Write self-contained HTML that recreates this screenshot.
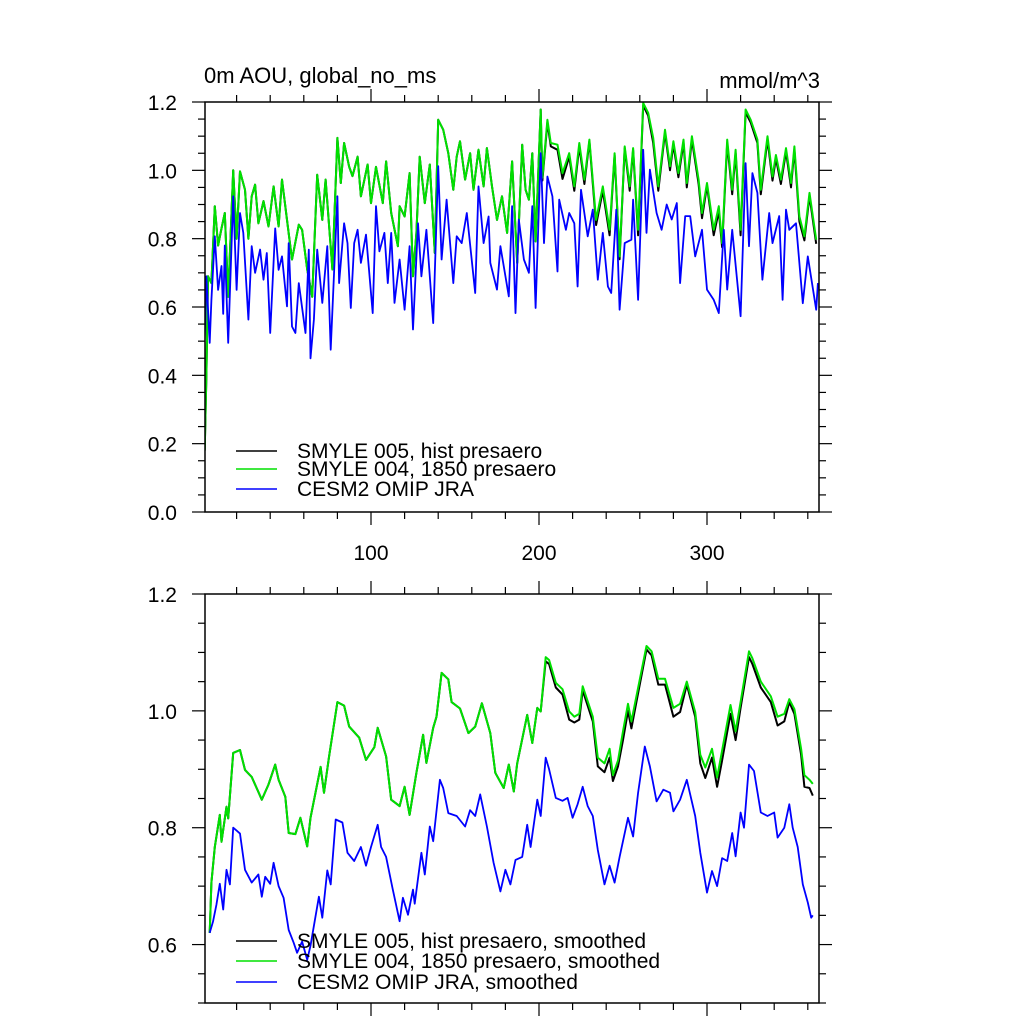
<!DOCTYPE html>
<html><head><meta charset="utf-8"><style>
body{margin:0;background:#fff}
svg{display:block;font-family:"Liberation Sans",sans-serif}
</style></head><body>
<svg id="c" width="1024" height="1024" viewBox="0 0 1024 1024">
<rect x="0" y="0" width="1024" height="1024" fill="#fff"/>
<g id="top"></g>
<g id="bot"></g>
<text x="204" y="83" font-size="22">0m AOU, global_no_ms</text>
<text x="820" y="88" font-size="22" text-anchor="end">mmol/m^3</text>
</svg>
<script>
const xTicks=[100,200,300];
const topYTicks=[0.0,0.2,0.4,0.6,0.8,1.0,1.2];
const botYTicks=[0.6,0.8,1.0,1.2];
const topLegend=["SMYLE 005, hist presaero","SMYLE 004, 1850 presaero","CESM2 OMIP JRA"];
const botLegend=["SMYLE 005, hist presaero, smoothed","SMYLE 004, 1850 presaero, smoothed","CESM2 OMIP JRA, smoothed"];

const topGreenDays=[1,2,3,5,7,9,11,13,15,18,20,22,25,27,29,31,33,36,39,42,45,47,50,53,57,59,62,65,68,71,73,77,80,82,84,87,89,92,94,98,100,103,107,109,112,116,117,120,123,125,127,129,132,135,138,140,143,146,149,151,153,156,159,161,164,167,169,172,175,178,181,184,187,190,192,194,196,198,201,202,205,207,211,214,218,221,224,227,230,234,238,242,245,248,251,254,256,259,262,265,268,271,275,278,280,283,286,288,291,295,297,300,304,307,309,312,315,317,320,323,326,330,332,336,339,341,344,347,350,352,355,358,361,365];
const topGreenVals=[0.18,0.40,0.69,0.67,0.895,0.78,0.83,0.875,0.63,1.0,0.80,0.997,0.943,0.80,0.924,0.958,0.845,0.91,0.836,0.953,0.836,0.973,0.855,0.739,0.841,0.826,0.71,0.63,0.987,0.855,0.973,0.71,1.095,0.963,1.08,1.01,0.983,1.04,0.924,1.017,0.904,1.01,0.904,1.026,0.875,0.778,0.895,0.865,0.992,0.69,0.817,1.04,0.904,1.017,0.758,1.148,1.119,1.05,0.943,1.04,1.085,0.973,1.05,0.943,1.06,0.953,1.065,0.953,0.855,0.924,0.817,1.026,0.729,1.075,0.943,0.914,1.05,0.792,1.178,0.978,1.148,1.08,1.075,0.992,1.05,0.953,1.08,0.973,1.09,0.855,0.953,0.826,1.05,0.748,1.07,0.953,1.065,0.826,1.197,1.168,1.095,0.953,1.119,1.012,1.085,0.992,1.09,0.963,1.10,0.973,0.875,0.963,0.826,0.895,0.787,1.09,0.943,1.06,0.826,1.178,1.148,1.09,0.943,1.10,0.982,1.045,0.973,1.065,0.963,1.07,0.865,0.807,0.934,0.797];
const topBlackVals=[0.18,0.40,0.69,0.67,0.895,0.78,0.83,0.875,0.63,1.0,0.80,0.997,0.943,0.80,0.924,0.958,0.845,0.91,0.836,0.953,0.836,0.973,0.855,0.739,0.841,0.826,0.71,0.63,0.987,0.855,0.973,0.71,1.095,0.963,1.08,1.01,0.983,1.04,0.924,1.017,0.904,1.01,0.904,1.026,0.875,0.778,0.895,0.865,0.992,0.69,0.817,1.04,0.904,1.017,0.758,1.148,1.119,1.05,0.943,1.04,1.085,0.973,1.05,0.943,1.06,0.953,1.065,0.953,0.855,0.924,0.817,1.026,0.729,1.075,0.943,0.914,1.05,0.792,1.178,0.97,1.14,1.07,1.06,0.975,1.04,0.94,1.07,0.96,1.085,0.84,0.94,0.81,1.045,0.74,1.065,0.94,1.06,0.81,1.19,1.16,1.08,0.94,1.11,1.0,1.075,0.98,1.08,0.95,1.09,0.96,0.86,0.955,0.81,0.88,0.775,1.08,0.93,1.05,0.81,1.17,1.14,1.08,0.93,1.09,0.97,1.035,0.96,1.055,0.95,1.06,0.85,0.795,0.925,0.785];
const topBlueDays=[1,2,4,5,7,9,11,12,13,15,18,20,22,24,27,29,31,34,36,38,40,43,45,47,50,51,53,55,57,61,63,64,66,68,71,74,76,80,81,84,86,88,90,92,94,97,101,103,105,108,110,112,114,117,120,123,125,128,130,133,137,140,142,145,149,151,154,157,162,164,167,170,171,175,177,182,184,186,188,191,194,196,198,201,203,205,208,211,212,216,218,221,223,225,229,232,235,238,241,243,246,248,251,255,256,259,262,264,266,270,273,276,279,282,284,287,290,293,297,300,304,307,310,312,315,320,323,325,327,330,333,337,339,343,345,347,349,353,357,360,365,366];
const topBlueVals=[0.505,0.69,0.495,0.62,0.807,0.65,0.72,0.58,0.78,0.495,0.924,0.65,0.875,0.817,0.563,0.778,0.70,0.768,0.68,0.758,0.524,0.83,0.709,0.748,0.602,0.787,0.543,0.524,0.67,0.524,0.768,0.45,0.563,0.768,0.612,0.778,0.475,0.924,0.67,0.845,0.787,0.597,0.787,0.826,0.729,0.812,0.582,0.895,0.763,0.817,0.67,0.817,0.612,0.739,0.592,0.778,0.534,0.845,0.69,0.826,0.553,1.012,0.739,0.914,0.67,0.807,0.787,0.875,0.641,0.953,0.787,0.865,0.729,0.651,0.778,0.631,0.895,0.582,0.856,0.739,0.70,0.895,0.597,1.05,0.787,0.982,0.924,0.704,0.914,0.826,0.875,0.845,0.66,0.943,0.807,0.885,0.68,0.817,0.66,0.641,0.885,0.592,0.787,0.797,0.914,0.621,1.06,0.817,1.002,0.875,0.826,0.90,0.856,0.904,0.67,0.866,0.866,0.748,0.826,0.651,0.621,0.582,0.826,0.651,0.826,0.573,1.021,0.778,0.992,0.934,0.68,0.875,0.787,0.866,0.621,0.885,0.826,0.845,0.611,0.748,0.592,0.67];

const botGreenDays=[4,5,7,10,11,14,15,18,22,25,29,35,39,43,45,49,51,55,58,62,64,70,72,75,80,84,87,93,97,102,104,109,112,117,120,123,127,131,133,137,139,142,146,148,153,158,162,166,171,174,179,182,185,187,193,196,199,201,204,206,210,214,218,221,224,226,232,235,239,242,244,247,250,253,255,258,264,267,271,275,280,284,288,293,296,299,303,306,309,314,317,320,325,327,332,338,342,346,349,352,356,358,361,363];
const botGreenVals=[0.62,0.706,0.767,0.822,0.776,0.836,0.816,0.928,0.933,0.899,0.887,0.848,0.874,0.908,0.882,0.853,0.791,0.789,0.817,0.768,0.817,0.904,0.86,0.921,1.015,1.009,0.973,0.954,0.916,0.938,0.971,0.922,0.848,0.837,0.870,0.822,0.894,0.959,0.911,0.971,0.990,1.065,1.054,1.015,1.004,0.962,0.973,1.013,0.962,0.894,0.868,0.908,0.862,0.91,0.993,0.945,1.005,0.999,1.092,1.087,1.048,1.037,0.999,0.99,0.995,1.042,0.99,0.92,0.91,0.935,0.89,0.915,0.965,1.012,0.982,1.025,1.111,1.102,1.055,1.055,1.005,1.012,1.05,0.998,0.925,0.903,0.935,0.886,0.932,1.01,0.965,1.015,1.102,1.09,1.05,1.025,0.99,0.995,1.02,1.003,0.935,0.89,0.882,0.875];
const botBlackVals=[0.62,0.706,0.767,0.822,0.776,0.836,0.816,0.928,0.933,0.899,0.887,0.848,0.874,0.908,0.882,0.853,0.791,0.789,0.817,0.768,0.817,0.904,0.86,0.921,1.015,1.009,0.973,0.954,0.916,0.938,0.971,0.922,0.848,0.837,0.870,0.822,0.894,0.959,0.911,0.971,0.990,1.065,1.054,1.015,1.004,0.962,0.973,1.013,0.962,0.894,0.868,0.908,0.862,0.91,0.993,0.945,1.005,0.999,1.085,1.08,1.04,1.028,0.985,0.98,0.985,1.035,0.982,0.905,0.895,0.92,0.88,0.905,0.95,1.0,0.97,1.015,1.105,1.095,1.045,1.045,0.99,0.998,1.045,0.99,0.91,0.885,0.92,0.87,0.915,0.995,0.95,1.005,1.092,1.08,1.04,1.015,0.975,0.982,1.015,0.995,0.925,0.87,0.868,0.855];
const botBlueDays=[4,6,8,10,12,14,16,18,20,22,25,29,33,35,37,40,42,45,48,51,54,56,59,62,64,69,71,74,76,79,83,86,90,94,97,100,104,106,109,113,117,119,122,125,126,130,132,135,137,141,143,146,151,156,159,162,165,169,173,177,180,183,186,190,193,195,199,201,204,206,210,214,217,220,223,226,229,232,235,239,242,245,248,253,256,259,263,266,270,274,278,280,284,288,293,296,300,303,306,309,312,315,317,320,322,325,328,332,336,340,342,346,349,351,354,357,360,362,363];
const botBlueVals=[0.62,0.64,0.668,0.704,0.66,0.728,0.703,0.80,0.795,0.79,0.728,0.706,0.72,0.682,0.716,0.704,0.74,0.70,0.68,0.625,0.603,0.586,0.605,0.574,0.598,0.682,0.646,0.727,0.703,0.814,0.809,0.757,0.743,0.767,0.735,0.767,0.805,0.767,0.75,0.694,0.64,0.68,0.651,0.694,0.67,0.757,0.72,0.802,0.777,0.882,0.868,0.825,0.82,0.802,0.83,0.82,0.857,0.802,0.74,0.691,0.728,0.703,0.745,0.75,0.805,0.767,0.848,0.82,0.92,0.90,0.851,0.846,0.851,0.817,0.84,0.87,0.837,0.82,0.762,0.703,0.735,0.706,0.75,0.817,0.785,0.86,0.939,0.905,0.845,0.865,0.86,0.828,0.848,0.882,0.82,0.757,0.689,0.726,0.70,0.748,0.743,0.791,0.751,0.826,0.80,0.908,0.897,0.826,0.82,0.826,0.783,0.80,0.84,0.80,0.767,0.703,0.672,0.646,0.65];

const NS="http://www.w3.org/2000/svg";
const X0=203, XS=1.68, L=205, R=819;
function xMap(d){return X0+XS*d;}
function mk(tag,attrs,parent){const e=document.createElementNS(NS,tag);for(const k in attrs)e.setAttribute(k,attrs[k]);parent.appendChild(e);return e;}

function panel(g,top,bottom,ymin,ymax,yTicks,showX,legend,legY,series){
  const yMap=v=>bottom-(v-ymin)/(ymax-ymin)*(bottom-top);
  const ax=mk('g',{},g);
  
  
  for(let v=ymin;v<=ymax+1e-9;v+=0.05){
    const y=yMap(v), maj=Math.abs(v*5-Math.round(v*5))<1e-6;
    const len=maj?13:7;
    mk('line',{x1:L-len,y1:y,x2:L,y2:y,stroke:'#000','stroke-width':1.2},ax);
    mk('line',{x1:R,y1:y,x2:R+len,y2:y,stroke:'#000','stroke-width':1.2},ax);
  }
  for(let d=20;d<=R;d+=20){
    const x=xMap(d); if(x<L||x>R)continue;
    const maj=d%100===0, len=maj?13:7;
    mk('line',{x1:x,y1:top-len,x2:x,y2:top,stroke:'#000','stroke-width':1.2},ax);
    mk('line',{x1:x,y1:bottom,x2:x,y2:bottom+len,stroke:'#000','stroke-width':1.2},ax);
  }
  yTicks.forEach(v=>{
    const t=mk('text',{x:177,y:yMap(v)+8,'font-size':21,'text-anchor':'end'},ax);
    
    
    t.textContent=v.toFixed(1);
  });
  if(showX){xTicks.forEach(d=>{
    const t=mk('text',{x:xMap(d),y:bottom+48,'font-size':21,'text-anchor':'middle'},ax);
    
    
    t.textContent=d;
  });}
  const cp='clip'+top;
  const defs=mk('defs',{},g);
  const c=mk('clipPath',{id:cp},defs);
  mk('rect',{x:L,y:top,width:R-L,height:bottom-top},c);
  series.forEach(s=>{
    const n=Math.min(s.d.length,s.v.length);
    let p='';
    for(let i=0;i<n;i++)p+=(i?'L':'M')+xMap(s.d[i]).toFixed(1)+' '+yMap(s.v[i]).toFixed(1);
    const path=mk('path',{d:p,fill:'none',stroke:s.c,'stroke-width':s.w,'stroke-linejoin':'round','clip-path':'url(#'+cp+')'},g);
    
    
  });
  mk('rect',{x:L,y:top,width:R-L,height:bottom-top,fill:'none',stroke:'#000','stroke-width':1.5},g);
  const cols=['#000','#00e000','#0000ff'];
  legend.forEach((txt,i)=>{
    const lg=mk('g',{},g);
    
    
    const y=legY[i];
    mk('line',{x1:236,y1:y,x2:277,y2:y,stroke:cols[i],'stroke-width':1.5},lg);
    const t=mk('text',{x:297,y:y+7,'font-size':21},lg);
    t.textContent=txt;
  });
}
panel(document.getElementById('top'),102,512,0,1.2,topYTicks,true,topLegend,[451,469,489],[
  {d:topGreenDays,v:topBlackVals,c:'#000',w:2,name:'smyle005-line'},
  {d:topGreenDays,v:topGreenVals,c:'#00e000',w:2,name:'smyle004-line'},
  {d:topBlueDays,v:topBlueVals,c:'#0000ff',w:1.8,name:'omip-jra-line'}]);
panel(document.getElementById('bot'),594,1003,0.5,1.2,botYTicks,false,botLegend,[941,961,982],[
  {d:botGreenDays,v:botBlackVals,c:'#000',w:2,name:'smyle005-smoothed-line'},
  {d:botGreenDays,v:botGreenVals,c:'#00e000',w:2,name:'smyle004-smoothed-line'},
  {d:botBlueDays,v:botBlueVals,c:'#0000ff',w:1.8,name:'omip-jra-smoothed-line'}]);
</script>
</body></html>
